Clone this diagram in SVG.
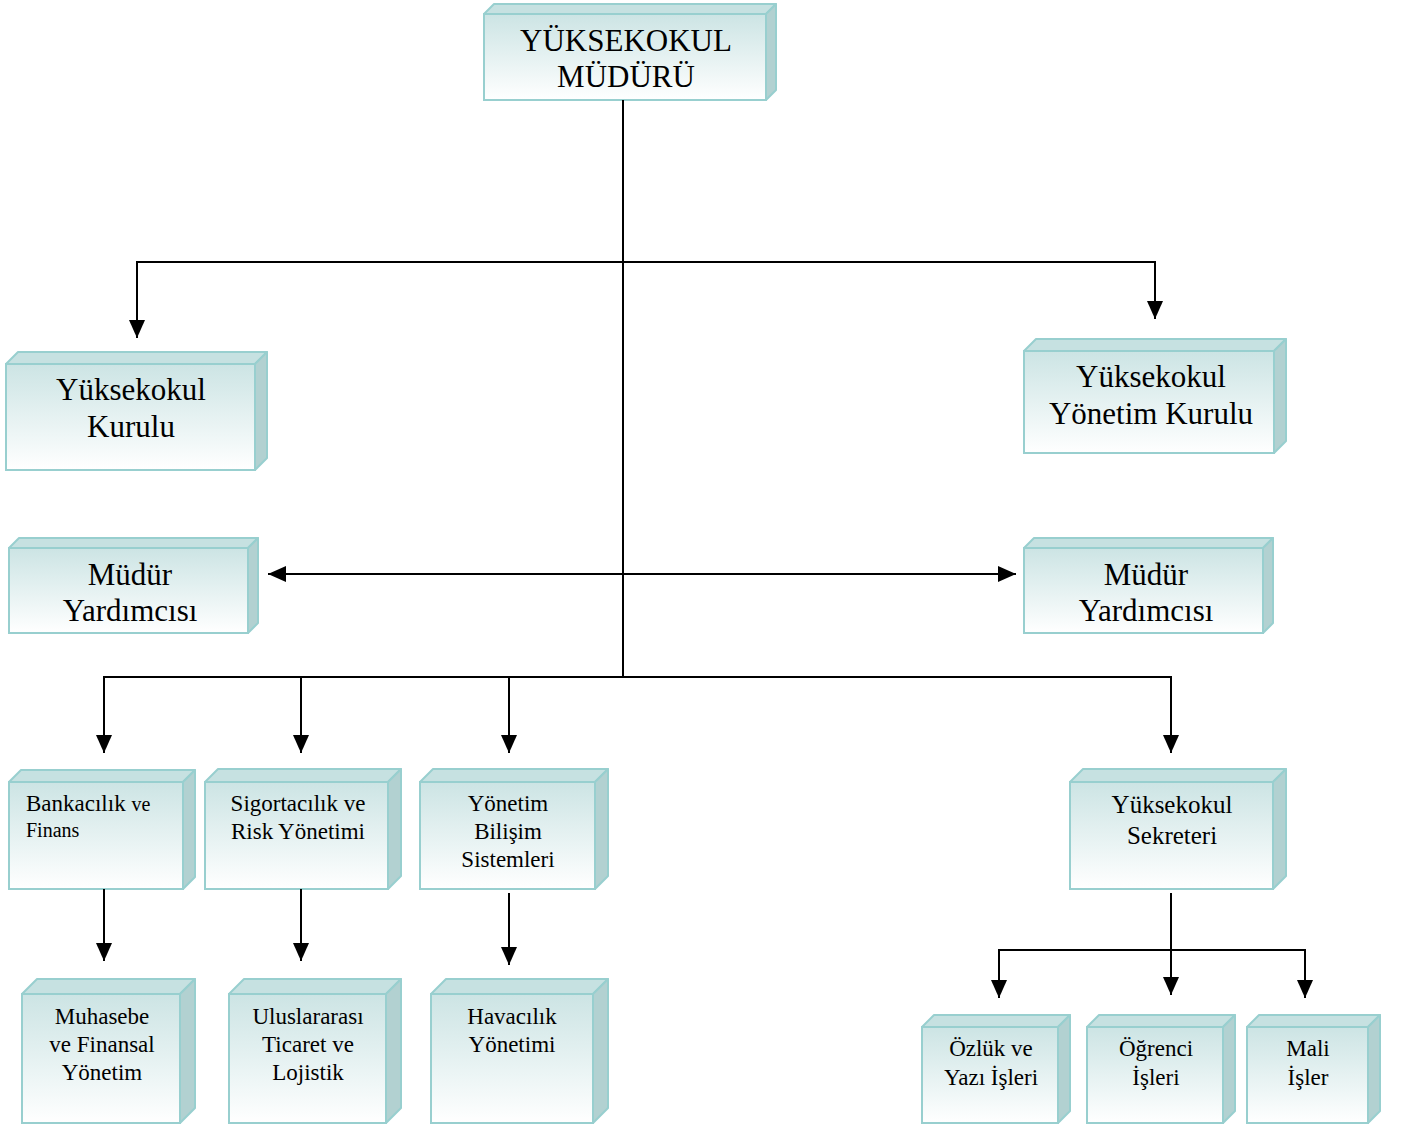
<svg xmlns="http://www.w3.org/2000/svg" width="1408" height="1126" viewBox="0 0 1408 1126">
<defs>
<linearGradient id="g" x1="0" y1="0" x2="0" y2="1">
<stop offset="0" stop-color="#cce4e4"/>
<stop offset="1" stop-color="#ffffff"/>
</linearGradient>
<marker id="ah" markerUnits="userSpaceOnUse" markerWidth="20" markerHeight="18" refX="18" refY="8" orient="auto">
<path d="M0,0 L18,8 L0,16 Z" fill="#000"/>
</marker>
</defs>
<style>
.f{fill:url(#g);stroke:#98cfcf;stroke-width:2}
.t{fill:#c6e1e1;stroke:#98cfcf;stroke-width:2;stroke-linejoin:round}
.r{fill:#b2d1d1;stroke:#98cfcf;stroke-width:2;stroke-linejoin:round}
text{font-family:"Liberation Serif","Times New Roman",serif;fill:#000;text-anchor:middle}
text.s{text-anchor:start}
.c{fill:none;stroke:#000;stroke-width:2}
.a{marker-end:url(#ah)}
</style>

<g id="n-mudur">
<polygon class="t" points="484,14 494,4 776,4 766,14"/>
<polygon class="r" points="766,14 776,4 776,90 766,100"/>
<rect class="f" x="484" y="14" width="282" height="86"/>
<text x="626" y="51" font-size="31">YÜKSEKOKUL</text>
<text x="626" y="87" font-size="31">MÜDÜRÜ</text>
</g>

<g id="n-kurul">
<polygon class="t" points="6,364 18,352 267,352 255,364"/>
<polygon class="r" points="255,364 267,352 267,458 255,470"/>
<rect class="f" x="6" y="364" width="249" height="106"/>
<text x="131" y="400" font-size="31">Yüksekokul</text>
<text x="131" y="437" font-size="31">Kurulu</text>
</g>

<g id="n-yonkurul">
<polygon class="t" points="1024,351 1036,339 1286,339 1274,351"/>
<polygon class="r" points="1274,351 1286,339 1286,441 1274,453"/>
<rect class="f" x="1024" y="351" width="250" height="102"/>
<text x="1151" y="387" font-size="31">Yüksekokul</text>
<text x="1151" y="424" font-size="31">Yönetim Kurulu</text>
</g>

<g id="n-my-left">
<polygon class="t" points="9,548 19,538 258,538 248,548"/>
<polygon class="r" points="248,548 258,538 258,623 248,633"/>
<rect class="f" x="9" y="548" width="239" height="85"/>
<text x="130" y="585" font-size="31">Müdür</text>
<text x="130" y="621" font-size="31">Yardımcısı</text>
</g>

<g id="n-my-right">
<polygon class="t" points="1024,548 1034,538 1273,538 1263,548"/>
<polygon class="r" points="1263,548 1273,538 1273,623 1263,633"/>
<rect class="f" x="1024" y="548" width="239" height="85"/>
<text x="1146" y="585" font-size="31">Müdür</text>
<text x="1146" y="621" font-size="31">Yardımcısı</text>
</g>

<g id="n-bankacilik">
<polygon class="t" points="9,782 21,770 195,770 183,782"/>
<polygon class="r" points="183,782 195,770 195,877 183,889"/>
<rect class="f" x="9" y="782" width="174" height="107"/>
<text class="s" x="26" y="811" font-size="23">Bankacılık <tspan font-size="20">ve</tspan></text>
<text class="s" x="26" y="837" font-size="20">Finans</text>
</g>

<g id="n-sigorta">
<polygon class="t" points="205,782 218,769 401,769 388,782"/>
<polygon class="r" points="388,782 401,769 401,876 388,889"/>
<rect class="f" x="205" y="782" width="183" height="107"/>
<text x="298" y="811" font-size="23">Sigortacılık ve</text>
<text x="298" y="839" font-size="23">Risk Yönetimi</text>
</g>

<g id="n-ybs">
<polygon class="t" points="420,782 433,769 608,769 595,782"/>
<polygon class="r" points="595,782 608,769 608,876 595,889"/>
<rect class="f" x="420" y="782" width="175" height="107"/>
<text x="508" y="811" font-size="23">Yönetim</text>
<text x="508" y="839" font-size="23">Bilişim</text>
<text x="508" y="867" font-size="23">Sistemleri</text>
</g>

<g id="n-sekreter">
<polygon class="t" points="1070,782 1083,769 1286,769 1273,782"/>
<polygon class="r" points="1273,782 1286,769 1286,876 1273,889"/>
<rect class="f" x="1070" y="782" width="203" height="107"/>
<text x="1172" y="813" font-size="25">Yüksekokul</text>
<text x="1172" y="844" font-size="25">Sekreteri</text>
</g>

<g id="n-muhasebe">
<polygon class="t" points="22,994 37,979 195,979 180,994"/>
<polygon class="r" points="180,994 195,979 195,1108 180,1123"/>
<rect class="f" x="22" y="994" width="158" height="129"/>
<text x="102" y="1024" font-size="23">Muhasebe</text>
<text x="102" y="1052" font-size="23">ve Finansal</text>
<text x="102" y="1080" font-size="23">Yönetim</text>
</g>

<g id="n-ulus">
<polygon class="t" points="229,994 244,979 401,979 386,994"/>
<polygon class="r" points="386,994 401,979 401,1108 386,1123"/>
<rect class="f" x="229" y="994" width="157" height="129"/>
<text x="308" y="1024" font-size="23">Uluslararası</text>
<text x="308" y="1052" font-size="23">Ticaret ve</text>
<text x="308" y="1080" font-size="23">Lojistik</text>
</g>

<g id="n-havacilik">
<polygon class="t" points="431,994 446,979 608,979 593,994"/>
<polygon class="r" points="593,994 608,979 608,1108 593,1123"/>
<rect class="f" x="431" y="994" width="162" height="129"/>
<text x="512" y="1024" font-size="23">Havacılık</text>
<text x="512" y="1052" font-size="23">Yönetimi</text>
</g>

<g id="n-ozluk">
<polygon class="t" points="922,1027 934,1015 1070,1015 1058,1027"/>
<polygon class="r" points="1058,1027 1070,1015 1070,1111 1058,1123"/>
<rect class="f" x="922" y="1027" width="136" height="96"/>
<text x="991" y="1056" font-size="23">Özlük ve</text>
<text x="991" y="1085" font-size="23">Yazı İşleri</text>
</g>

<g id="n-ogrenci">
<polygon class="t" points="1087,1027 1099,1015 1235,1015 1223,1027"/>
<polygon class="r" points="1223,1027 1235,1015 1235,1111 1223,1123"/>
<rect class="f" x="1087" y="1027" width="136" height="96"/>
<text x="1156" y="1056" font-size="23">Öğrenci</text>
<text x="1156" y="1085" font-size="23">İşleri</text>
</g>

<g id="n-mali">
<polygon class="t" points="1247,1027 1259,1015 1380,1015 1368,1027"/>
<polygon class="r" points="1368,1027 1380,1015 1380,1111 1368,1123"/>
<rect class="f" x="1247" y="1027" width="121" height="96"/>
<text x="1308" y="1056" font-size="23">Mali</text>
<text x="1308" y="1085" font-size="23">İşler</text>
</g>

<g id="connectors">
<line class="c" x1="623" y1="100" x2="623" y2="678"/>
<polyline class="c" points="1155,262 137,262"/>
<line class="c a" x1="137" y1="261" x2="137" y2="338"/>
<line class="c a" x1="1155" y1="261" x2="1155" y2="319"/>
<line class="c a" x1="623" y1="574" x2="268" y2="574"/>
<line class="c a" x1="623" y1="574" x2="1016" y2="574"/>
<polyline class="c" points="104,677 1171,677"/>
<line class="c a" x1="104" y1="676" x2="104" y2="753"/>
<line class="c a" x1="301" y1="677" x2="301" y2="753"/>
<line class="c a" x1="509" y1="677" x2="509" y2="753"/>
<line class="c a" x1="1171" y1="676" x2="1171" y2="753"/>
<line class="c a" x1="104" y1="889" x2="104" y2="961"/>
<line class="c a" x1="301" y1="889" x2="301" y2="961"/>
<line class="c a" x1="509" y1="893" x2="509" y2="965"/>
<line class="c a" x1="1171" y1="893" x2="1171" y2="995"/>
<polyline class="c" points="999,998 999,950 1305,950 1305,998"/>
<line class="c a" x1="999" y1="960" x2="999" y2="998"/>
<line class="c a" x1="1305" y1="960" x2="1305" y2="998"/>
</g>
</svg>
